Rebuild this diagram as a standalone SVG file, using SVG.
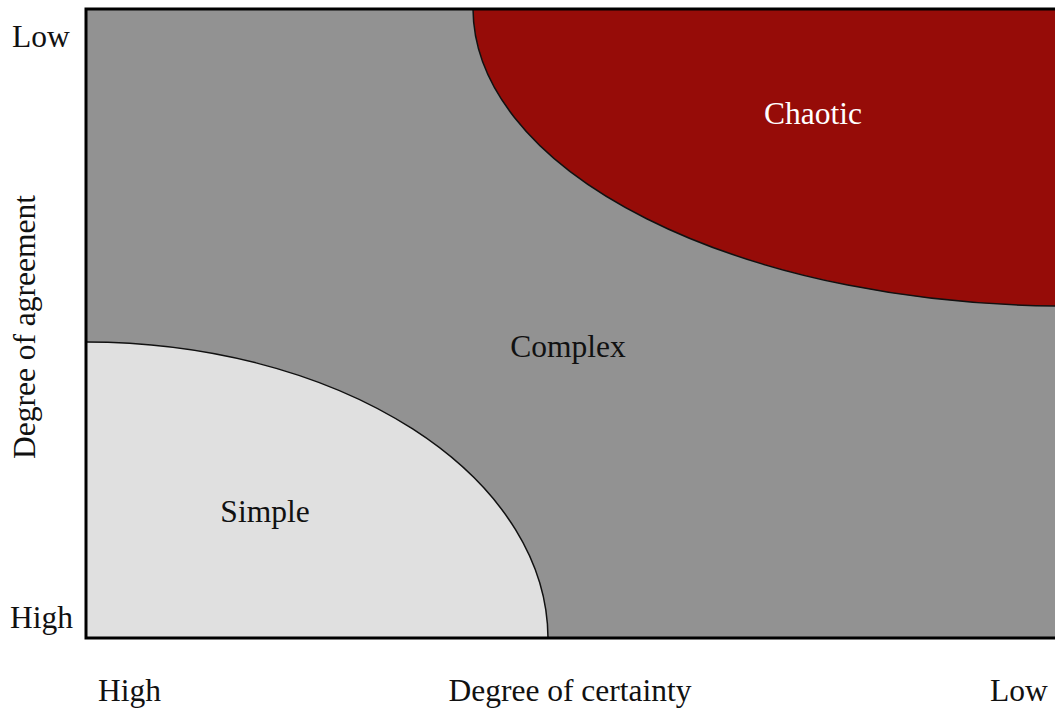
<svg xmlns="http://www.w3.org/2000/svg" width="1055" height="709" viewBox="0 0 1055 709">
<style>
text{font-family:"Liberation Serif","Times New Roman",serif;font-size:31.5px;fill:#111}
.region{stroke:#111;stroke-width:1.5}
</style>
<defs><clipPath id="c"><rect x="86" y="9" width="975" height="629"/></clipPath></defs>
<rect width="1055" height="709" fill="#fff"/>
<g id="frame"><rect x="86" y="9" width="975" height="629" fill="#929292"/></g>
<g clip-path="url(#c)">
<g id="chaotic"><ellipse class="region" cx="1066" cy="8" rx="593" ry="298" fill="#960c08"/></g>
<g id="simple"><ellipse class="region" cx="86" cy="639" rx="462" ry="297" fill="#e0e0e0"/></g>
</g>
<rect x="86" y="9" width="985" height="629" fill="none" stroke="#000" stroke-width="3"/>
<text x="813" y="124" text-anchor="middle" style="fill:#fff">Chaotic</text>
<text x="568" y="357" text-anchor="middle">Complex</text>
<text x="265" y="522" text-anchor="middle">Simple</text>
<text x="12" y="47">Low</text>
<text x="10" y="628">High</text>
<text transform="translate(35 327) rotate(-90)" text-anchor="middle">Degree of agreement</text>
<text x="98" y="701">High</text>
<text x="570" y="701" text-anchor="middle">Degree of certainty</text>
<text x="990" y="701">Low</text>
</svg>
